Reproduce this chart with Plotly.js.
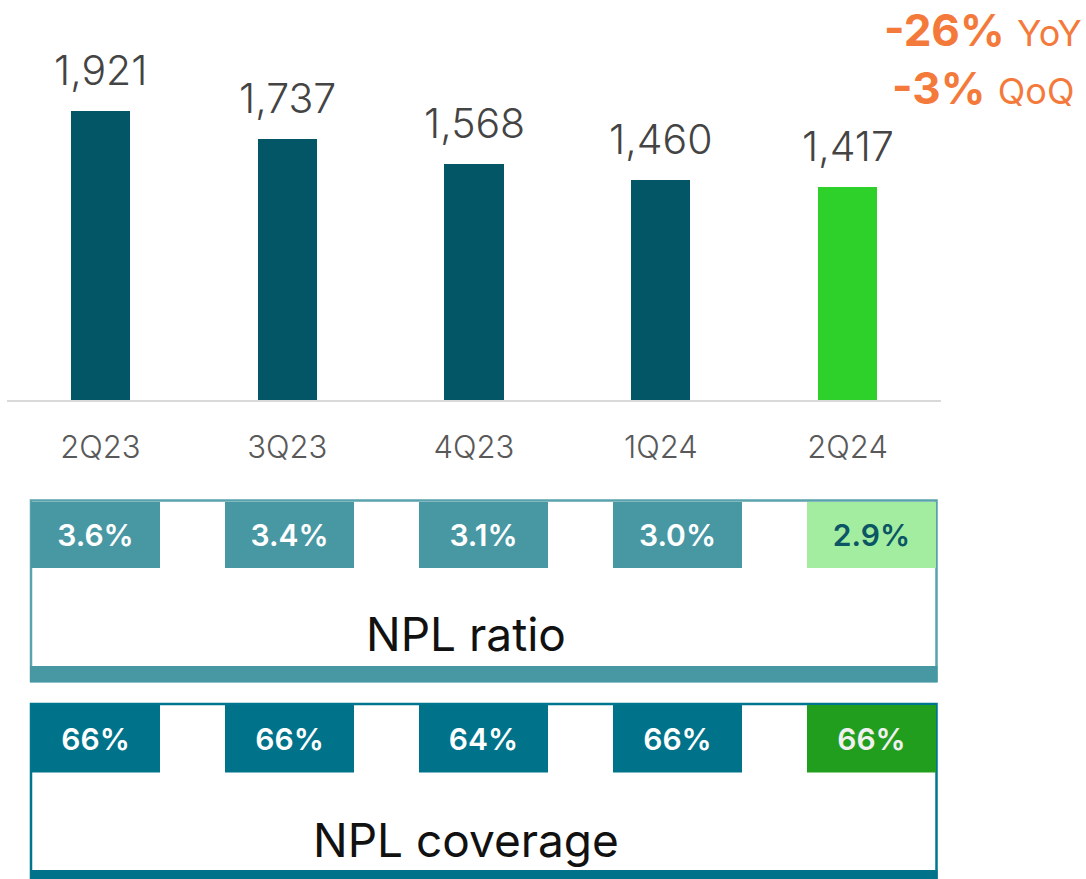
<!DOCTYPE html>
<html>
<head>
<meta charset="utf-8">
<script src="https://cdn.plot.ly/plotly-3.0.1.min.js"></script>
<style>html,body{margin:0;padding:0;background:#fff;}#chart{width:1086px;height:879px;}</style>
</head>
<body>
<div id="chart"></div>
<script>
// ---- data ----
const quarters = ["2Q23", "3Q23", "4Q23", "1Q24", "2Q24"];
const nplStock = [1921, 1737, 1568, 1460, 1417];
const nplRatio = [3.6, 3.4, 3.1, 3.0, 2.9];
const nplCoverage = [66, 66, 64, 66, 66];
const yoyChange = -26;
const qoqChange = -3;

// ---- helpers (pixel -> paper) ----
const W = 1086, H = 879;
const px = v => v / W;
const py = v => 1 - v / H;
const FONT = "Inter, Lato, 'Noto Sans', sans-serif";
const fmt = n => n.toLocaleString("en-US");

const barColors = quarters.map((q, i) => i === quarters.length - 1 ? "#2dd12a" : "#025666");
const ratioColors = quarters.map((q, i) => i === quarters.length - 1 ? "#a3eda0" : "#4898a4");
const ratioText = quarters.map((q, i) => i === quarters.length - 1 ? "#0b5565" : "#ffffff");
const covColors = quarters.map((q, i) => i === quarters.length - 1 ? "#229e1f" : "#00738b");
const covText = quarters.map((q, i) => i === quarters.length - 1 ? "#f0f0f0" : "#ffffff");

const traces = [
  {
    type: "bar", x: quarters, y: nplStock, xaxis: "x", yaxis: "y",
    marker: {color: barColors}, width: 0.316, hoverinfo: "skip"
  },
  {
    type: "bar", x: quarters, y: nplRatio.map(() => 1), xaxis: "x2", yaxis: "y2",
    marker: {color: ratioColors}, width: 0.665,
    text: nplRatio.map(v => v.toFixed(1) + "%"),
    textposition: "inside", insidetextanchor: "middle", textangle: 0,
    textfont: {family: FONT, size: 30, weight: 600, color: ratioText},
    hoverinfo: "skip"
  },
  {
    type: "bar", x: quarters, y: nplCoverage.map(() => 1), xaxis: "x2", yaxis: "y3",
    marker: {color: covColors}, width: 0.665,
    text: nplCoverage.map(v => v + "%"),
    textposition: "inside", insidetextanchor: "middle", textangle: 0,
    textfont: {family: FONT, size: 30, weight: 600, color: covText},
    hoverinfo: "skip"
  }
];

const annotations = quarters.map((q, i) => ({
  x: q, y: nplStock[i], xref: "x", yref: "y",
  text: fmt(nplStock[i]), showarrow: false,
  yanchor: "bottom", yshift: 14,
  font: {family: FONT, size: 41, weight: 300, color: "#444444"}
}));

annotations.push(
  {xref: "paper", yref: "paper", x: px(466), y: py(634), xanchor: "center", yanchor: "middle",
   text: "NPL ratio", showarrow: false, font: {family: FONT, size: 46, color: "#111111"}},
  {xref: "paper", yref: "paper", x: px(466), y: py(840), xanchor: "center", yanchor: "middle",
   text: "NPL coverage", showarrow: false, font: {family: FONT, size: 46, color: "#111111"}},
  {xref: "paper", yref: "paper", x: px(1084), y: py(30), xanchor: "right", yanchor: "middle",
   text: "<b>" + yoyChange + "%</b> <span style='font-size:36px'>YoY</span>", showarrow: false,
   font: {family: FONT, size: 44, color: "#f47a3c"}},
  {xref: "paper", yref: "paper", x: px(1076), y: py(88), xanchor: "right", yanchor: "middle",
   text: "<b>" + qoqChange + "%</b> <span style='font-size:36px'>QoQ</span>", showarrow: false,
   font: {family: FONT, size: 44, color: "#f47a3c"}}
);

const shapes = [
  // NPL ratio box
  {type: "rect", xref: "paper", yref: "paper", layer: "below",
   x0: px(31), x1: px(936.5), y0: py(681), y1: py(500.5),
   line: {color: "#5aa3ad", width: 2.5}, fillcolor: "rgba(0,0,0,0)"},
  {type: "rect", xref: "paper", yref: "paper", layer: "below",
   x0: px(30), x1: px(937.5), y0: py(682.5), y1: py(666),
   line: {width: 0}, fillcolor: "#4898a4"},
  // NPL coverage box
  {type: "rect", xref: "paper", yref: "paper", layer: "below",
   x0: px(31), x1: px(936.5), y0: py(878), y1: py(704),
   line: {color: "#00758f", width: 2.5}, fillcolor: "rgba(0,0,0,0)"},
  {type: "rect", xref: "paper", yref: "paper", layer: "below",
   x0: px(30), x1: px(937.5), y0: py(879), y1: py(870),
   line: {width: 0}, fillcolor: "#00738b"}
];

const hiddenX = {showgrid: false, zeroline: false, showline: false, showticklabels: false, fixedrange: true};
const hiddenY = {showgrid: false, zeroline: false, showline: false, showticklabels: false, fixedrange: true, range: [0, 1]};

const layout = {
  width: W, height: H,
  margin: {l: 0, r: 0, t: 0, b: 0, pad: 0},
  paper_bgcolor: "#ffffff", plot_bgcolor: "rgba(0,0,0,0)",
  showlegend: false, bargap: 0,
  font: {family: FONT},
  xaxis: {
    domain: [px(7), px(941)], type: "category", range: [-0.5, 4.5],
    showgrid: false, zeroline: false, showline: true, linecolor: "#d9d9d9", linewidth: 2,
    ticks: "", ticklabelstandoff: 19,
    tickfont: {family: FONT, size: 31, weight: 300, color: "#595959"}, fixedrange: true
  },
  yaxis: {
    domain: [py(400), 1], range: [0, 2658],
    showgrid: false, zeroline: false, showline: false, showticklabels: false, fixedrange: true
  },
  xaxis2: Object.assign({}, hiddenX, {domain: [px(31), px(936)], type: "category", range: [-0.3325, 4.3325], anchor: "y2"}),
  yaxis2: Object.assign({}, hiddenY, {domain: [py(568), py(501.5)], anchor: "x2"}),
  yaxis3: Object.assign({}, hiddenY, {domain: [py(772.5), py(705)], anchor: "x2"}),
  annotations: annotations,
  shapes: shapes
};

Plotly.newPlot("chart", traces, layout, {staticPlot: true, displayModeBar: false});
</script>
</body>
</html>
